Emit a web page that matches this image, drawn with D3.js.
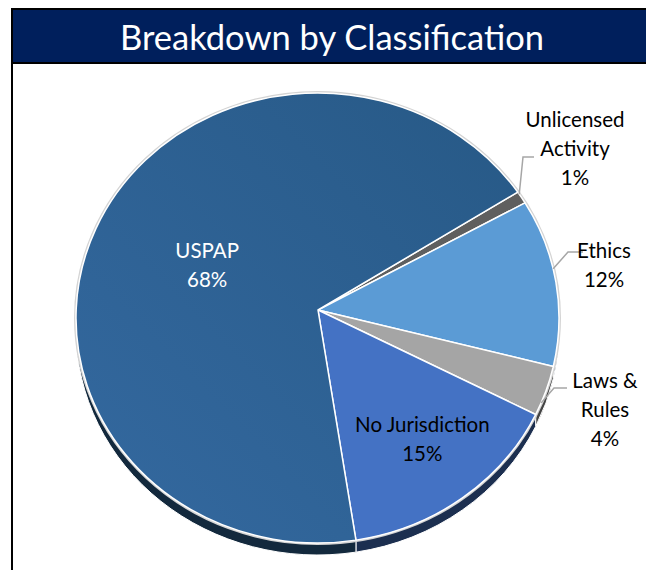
<!doctype html>
<html>
<head>
  <meta charset="utf-8">
  <title>Breakdown by Classification</title>
  <script src="https://cdn.jsdelivr.net/npm/d3@7"></script>
  <style>
    body { margin: 0; background: #fff; }
    svg { display: block; font-family: Lato, "Open Sans", sans-serif; }
  </style>
</head>
<body>
  <div id="chart"></div>
  <script>
    // data, clockwise from the small slice at upper right
    var categories = ["Unlicensed Activity", "Ethics", "Laws & Rules", "No Jurisdiction", "USPAP"];
    var values = [0.9, 12.0, 3.6, 15.4, 68.1];
    var labelLines = [["Unlicensed", "Activity"], ["Ethics"], ["Laws &", "Rules"], ["No Jurisdiction"], ["USPAP"]];

    var colors = ["#5f5f5f", "#5b9bd5", "#a5a5a5", "#4472c4", "#2f6596"];

    var W = 646, H = 570;
    var cx = 317.5, cy = 318, rx = 241.5, ry = 225, depth = 12;
    var vx = 318, vy = 310; // apex of the tilted pie

    // label layout (inside: fraction of radius, outside: text centre + leader)
    var layout = [
      { out: true, x: 575, y: 120, elbow: [523, 157], end: 534, attach: 0.2 },
      { out: true, x: 604, y: 251, elbow: [568, 252], end: 583, attach: 0.42 },
      { out: true, x: 605, y: 381, elbow: [554, 388], end: 567, attach: 0.75 },
      { out: false, frac: 0.72, fill: "#000" },
      { out: false, frac: 0.5, fill: "#fff" }
    ];
    var lineH = 29;

    var svg = d3.select("#chart").append("svg")
      .attr("width", W).attr("height", H);

    // frame + title bar
    svg.append("rect")
      .attr("x", 12).attr("y", 9).attr("width", W).attr("height", H)
      .attr("fill", "#fff").attr("stroke", "#000").attr("stroke-width", 2);
    svg.append("rect")
      .attr("x", 12).attr("y", 9).attr("width", W).attr("height", 54)
      .attr("fill", "#001f5c").attr("stroke", "#000").attr("stroke-width", 2);
    svg.append("text")
      .attr("x", 332).attr("y", 50)
      .attr("text-anchor", "middle")
      .attr("fill", "#fff")
      .style("font-size", "34.5px")
      .text("Breakdown by Classification");

    var pie = d3.pie().sort(null).value(function (d) { return d; })
      .startAngle(56 * Math.PI / 180)
      .endAngle(56 * Math.PI / 180 + 2 * Math.PI);
    var arcs = pie(values);
    var total = d3.sum(values);

    function pt(a) { return [cx + rx * Math.sin(a), cy - ry * Math.cos(a)]; }

    function slicePath(d) {
      var p0 = pt(d.startAngle), p1 = pt(d.endAngle);
      var large = (d.endAngle - d.startAngle) > Math.PI ? 1 : 0;
      return "M" + vx + "," + vy + "L" + p0 + "A" + rx + "," + ry + " 0 " + large + " 1 " + p1 + "Z";
    }

    // visible side of the disc (lower half only)
    function sidePath(d) {
      var lo = Math.PI / 2, hi = 3 * Math.PI / 2;
      var a0 = Math.max(d.startAngle, lo), a1 = Math.min(d.endAngle, hi);
      if (a1 <= a0) return null;
      var p0 = pt(a0), p1 = pt(a1);
      return "M" + p0 + "A" + rx + "," + ry + " 0 0 1 " + p1 +
        "L" + p1[0] + "," + (p1[1] + depth) +
        "A" + rx + "," + ry + " 0 0 0 " + p0[0] + "," + (p0[1] + depth) + "Z";
    }

    var defs = svg.append("defs");
    var grad = defs.append("linearGradient").attr("id", "g4")
      .attr("x1", "0").attr("y1", "1").attr("x2", "1").attr("y2", "0");
    grad.append("stop").attr("offset", "0").attr("stop-color", "#3469a0");
    grad.append("stop").attr("offset", "1").attr("stop-color", "#275986");

    // sides
    svg.append("g").selectAll("path")
      .data(arcs.filter(function (d) { return sidePath(d); }))
      .join("path")
      .attr("d", sidePath)
      .attr("fill", function (d) { return d3.color(colors[d.index]).darker(2.5); })
      .attr("stroke", "#fff").attr("stroke-width", 1);

    // rim
    svg.append("ellipse")
      .attr("cx", cx).attr("cy", cy).attr("rx", rx + 1).attr("ry", ry + 1)
      .attr("fill", "none").attr("stroke", "#d4d4d4").attr("stroke-width", 2);

    // top faces
    svg.append("g").selectAll("path")
      .data(arcs)
      .join("path")
      .attr("d", slicePath)
      .attr("fill", function (d) { return d.index === 4 ? "url(#g4)" : colors[d.index]; })
      .attr("stroke", "#fff").attr("stroke-width", 1.5)
      .attr("stroke-linejoin", "round");

    // labels
    var lab = svg.append("g").style("font-size", "20.5px");
    arcs.forEach(function (d, i) {
      var L = layout[i];
      var lines = labelLines[i].concat([Math.round(values[i] / total * 100) + "%"]);
      var x, y0, fill;
      if (L.out) {
        x = L.x; y0 = L.y; fill = "#000";
        var a = d.startAngle + (d.endAngle - d.startAngle) * L.attach;
        var s = pt(a);
        lab.append("polyline")
          .attr("points", [s, L.elbow, [L.end, L.elbow[1]]].join(" "))
          .attr("fill", "none").attr("stroke", "#a6a6a6").attr("stroke-width", 1.5);
      } else {
        var m = (d.startAngle + d.endAngle) / 2;
        x = vx + rx * L.frac * Math.sin(m);
        var yc = vy - ry * L.frac * Math.cos(m);
        y0 = yc - (lines.length - 1) * lineH / 2;
        fill = L.fill;
      }
      lines.forEach(function (t, k) {
        lab.append("text")
          .attr("x", x).attr("y", y0 + k * lineH)
          .attr("dy", "0.35em")
          .attr("text-anchor", "middle")
          .attr("fill", fill)
          .text(t);
      });
    });
  </script>
</body>
</html>
